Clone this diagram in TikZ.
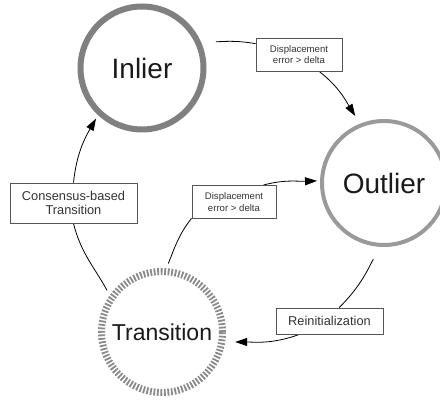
\documentclass[tikz,border=0pt]{standalone}
\usepackage{fontspec}
\setmainfont{Liberation Sans}
\usetikzlibrary{arrows.meta}
\pgfdeclarelayer{background}
\pgfsetlayers{background,main}
\definecolor{ringA}{HTML}{808080}
\definecolor{ringB}{HTML}{9A9A9A}
\definecolor{ringC}{HTML}{8A8A8A}
\definecolor{boxline}{HTML}{555555}
\definecolor{boxtext}{HTML}{333333}
\definecolor{bigtext}{HTML}{1A1A1A}
\tikzset{
  statenode/.style={circle, inner sep=0pt, text=bigtext},
  labelbox/.style={rectangle, draw=boxline, line width=0.9pt, fill=white, inner sep=0pt, align=center, text=boxtext},
  smallbox/.style={labelbox, font=\fontsize{9.6}{11.6}\selectfont},
  largebox/.style={labelbox, font=\fontsize{12.8}{14}\selectfont},
  conn/.style={draw=black, line width=0.8pt},
  arr/.style={conn, -{Triangle[length=12pt,width=8pt]}}
}
\begin{document}
\begin{tikzpicture}[x=1pt,y=1pt]
\useasboundingbox (0,0) rectangle (440,404);
% states
\node[statenode, draw=ringA, line width=6pt, minimum size=123pt, font=\fontsize{28}{30}\selectfont] (inlier) at (142,336) {Inlier};
\node[statenode, draw=ringB, line width=4pt, minimum size=124pt, font=\fontsize{28}{30}\selectfont] (outlier) at (384,221) {Outlier};
\node[statenode, draw=ringC, line width=7pt, dash pattern=on 1.8pt off 1.7pt, minimum size=121pt, font=\fontsize{23}{25}\selectfont] (transition) at (162,72) {Transition};
% label boxes
\node[smallbox, minimum width=86pt, minimum height=33pt] (box1) at (299,349.5) {Displacement\\error > delta};
\node[smallbox, minimum width=84pt, minimum height=33pt] (box2) at (234,202) {Displacement\\error > delta};
\node[largebox, minimum width=127pt, minimum height=40pt] (box3) at (73.5,201) {Consensus-based\\Transition};
\node[largebox, minimum width=107pt, minimum height=26pt] (box4) at (329.5,83) {Reinitialization};
% connectors
\begin{pgfonlayer}{background}
\draw[conn, shorten <=15pt] (inlier.24) to[out=0,in=170] (box1.166);
\draw[arr, shorten >=9pt] (box1.320) to[out=-38,in=122] (outlier.112);
\draw[conn, shorten <=5pt] (transition.86) to[out=68,in=-128] (box2.201);
\draw[arr, shorten >=3pt] (box2.30) to[out=15,in=182] (outlier.178);
\draw[conn, shorten <=13.6pt] (outlier.266) to[out=243,in=45] (box4.54);
\draw[arr, shorten >=10pt] (box4.204) to[out=200,in=0] (transition.-9);
\draw[conn, shorten <=5.6pt] (transition.145) to[out=118,in=-76] (box3.south);
\draw[arr, shorten >=4pt] (box3.north) to[out=84,in=-120] (inlier.227);
\end{pgfonlayer}
\end{tikzpicture}
\end{document}
